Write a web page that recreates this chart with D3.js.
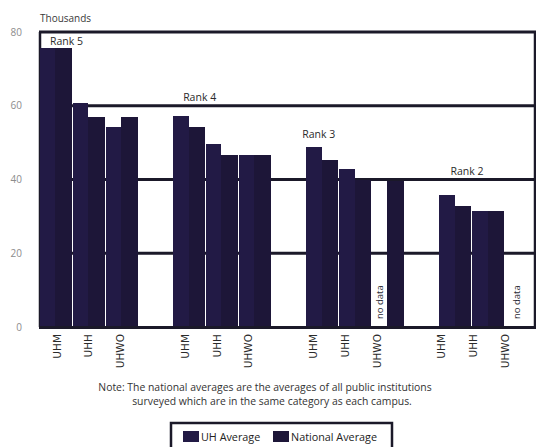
<!DOCTYPE html>
<html>
<head>
<meta charset="utf-8">
<script src="https://cdn.jsdelivr.net/npm/d3@7"></script>
<style>
  html, body { margin: 0; padding: 0; background: #fff; }
  svg { display: block; font-family: "Open Sans", "Lato", sans-serif; }
</style>
</head>
<body>
<svg id="chart" width="536" height="447"></svg>
<script>
// Salary comparison by campus and rank, in thousands of dollars
const ranks = ["Rank 5", "Rank 4", "Rank 3", "Rank 2"];
const campuses = ["UHM", "UHH", "UHWO"];
const seriesNames = ["UH Average", "National Average"];
// one row per rank, one value per campus (null = no data)
const uhAverage = [
  [75.7, 60.7, 54.3],
  [57.2, 49.6, 46.7],
  [48.9, 42.8, null],
  [35.8, 31.5, null]
];
const nationalAverage = [
  [75.7, 56.9, 56.9],
  [54.3, 46.7, 46.7],
  [45.3, 39.8, 39.5],
  [32.8, 31.5, null]
];
const yTicks = [0, 20, 40, 60, 80];
const noteLines = [
  "Note: The national averages are the averages of all public institutions",
  "surveyed which are in the same category as each campus."
];

const colors = { "UH Average": "#221a45", "National Average": "#1d1638" };
const ink = "#1b1929";

const svg = d3.select("#chart");

const y = d3.scaleLinear().domain([0, 80]).range([327, 32]);

const xGroup = d3.scaleBand().domain(ranks).range([39, 537]).paddingInner(0.26).paddingOuter(0);
const xCampus = d3.scaleBand().domain(campuses).range([0, xGroup.bandwidth()]);
const xSeries = d3.scaleBand().domain(seriesNames).range([0, xCampus.bandwidth()]);

// tick labels sit on their own, slightly narrower spacing
const xLabelGroup = d3.scaleBand().domain(ranks).range([41, 521]).paddingInner(0.256).paddingOuter(0);
const xLabelCampus = d3.scaleBand().domain(campuses).range([0, xLabelGroup.bandwidth()]);

const plotLeft = 40, plotRight = 535;

// horizontal reference lines
svg.append("g").selectAll("line").data(yTicks.filter(d => d > 0)).join("line")
  .attr("x1", plotLeft - 1).attr("x2", plotRight + 1)
  .attr("y1", d => y(d)).attr("y2", d => y(d))
  .attr("stroke", ink).attr("stroke-width", 3);

// frame sides
svg.append("line").attr("x1", plotLeft).attr("x2", plotLeft)
  .attr("y1", y(80)).attr("y2", y(0)).attr("stroke", ink).attr("stroke-width", 2.5);
svg.append("line").attr("x1", plotRight).attr("x2", plotRight)
  .attr("y1", y(80)).attr("y2", y(0)).attr("stroke", ink).attr("stroke-width", 2.5);

// bars: the two bars of a campus touch, campuses are split by a 1px gap
const barData = [];
ranks.forEach((r, i) => {
  campuses.forEach((c, j) => {
    barData.push({ rank: r, campus: c, series: "UH Average", value: uhAverage[i][j] });
    barData.push({ rank: r, campus: c, series: "National Average", value: nationalAverage[i][j] });
  });
});
const pairStart = d => Math.round(xGroup(d.rank) + xCampus(d.campus));
const pairEnd = d => Math.round(xGroup(d.rank) + xCampus(d.campus) + xCampus.bandwidth());
const barLeft = d => d.series === seriesNames[0]
  ? pairStart(d) + 1
  : Math.round(xGroup(d.rank) + xCampus(d.campus) + xSeries(d.series));
const barRight = d => d.series === seriesNames[0]
  ? Math.round(xGroup(d.rank) + xCampus(d.campus) + xSeries(seriesNames[1]))
  : pairEnd(d);

svg.append("g").attr("shape-rendering", "crispEdges")
  .selectAll("rect").data(barData.filter(d => d.value != null)).join("rect")
  .attr("x", barLeft)
  .attr("width", d => barRight(d) - barLeft(d))
  .attr("y", d => Math.round(y(d.value)))
  .attr("height", d => Math.round(y(0)) - Math.round(y(d.value)))
  .attr("fill", d => colors[d.series]);

// baseline
svg.append("line").attr("x1", plotLeft - 1).attr("x2", plotRight + 1)
  .attr("y1", y(0) + 0.5).attr("y2", y(0) + 0.5).attr("stroke", ink).attr("stroke-width", 3);

// "no data" markers
svg.append("g").selectAll("text").data(barData.filter(d => d.value == null && d.series === "UH Average")).join("text")
  .attr("transform", d => {
    const bothMissing = barData.find(b => b.rank === d.rank && b.campus === d.campus && b.series === "National Average").value == null;
    const cx = bothMissing
      ? xGroup(d.rank) + xCampus(d.campus) + xCampus.bandwidth() / 2 - 4
      : xGroup(d.rank) + xCampus(d.campus) + xSeries(d.series) + xSeries.bandwidth() / 2;
    return `translate(${cx},${y(0) - 8}) rotate(-90)`;
  })
  .attr("dy", "0.35em")
  .attr("font-size", 9.5)
  .attr("fill", "#2a2a33")
  .text("no data");

// y axis labels
const yAxis = svg.append("g").attr("transform", "translate(24,0)")
  .call(d3.axisLeft(y).tickValues(yTicks).tickSize(0).tickPadding(2));
yAxis.select(".domain").remove();
yAxis.selectAll("text").attr("font-size", 10).attr("fill", "#8c8c8c").attr("font-family", "Open Sans, sans-serif");

svg.append("text").attr("x", 40).attr("y", 18).attr("dy", "0.35em")
  .attr("font-size", 10).attr("fill", "#3a3a3a").text("Thousands");

// rank labels
const rankLabelPos = { "Rank 5": [11, 77.4], "Rank 4": [11, 62.3], "Rank 3": [-3, 52.2], "Rank 2": [12, 42.2] };
svg.append("g").selectAll("text").data(ranks).join("text")
  .attr("x", d => xGroup(d) + rankLabelPos[d][0])
  .attr("y", d => y(rankLabelPos[d][1]))
  .attr("dy", "0.35em")
  .attr("font-size", 10.5).attr("fill", "#2b2b2b")
  .text(d => d);

// campus tick labels
const tickData = [];
ranks.forEach(r => campuses.forEach(c => tickData.push({ rank: r, campus: c })));
svg.append("g").selectAll("text").data(tickData).join("text")
  .attr("transform", d => `translate(${xLabelGroup(d.rank) + xLabelCampus(d.campus) + xLabelCampus.bandwidth() / 2},334) rotate(-90)`)
  .attr("text-anchor", "end")
  .attr("dy", "0.35em")
  .attr("font-size", 10.5)
  .attr("font-family", "DejaVu Sans, sans-serif")
  .attr("fill", "#2a2a2a")
  .text(d => d.campus);

// note
svg.append("g").selectAll("text").data(noteLines).join("text")
  .attr("x", (d, i) => i === 0 ? 265 : 272)
  .attr("y", (d, i) => 387 + i * 14)
  .attr("dy", "0.35em")
  .attr("text-anchor", "middle")
  .attr("font-size", 10.4)
  .attr("fill", "#333")
  .text(d => d);

// legend
const legend = svg.append("g");
legend.append("rect").attr("x", 171).attr("y", 423).attr("width", 221).attr("height", 40)
  .attr("fill", "#fff").attr("stroke", ink).attr("stroke-width", 2.5);
const legendX = [183, 273];
seriesNames.forEach((s, i) => {
  legend.append("rect").attr("x", legendX[i]).attr("y", 431).attr("width", 16).attr("height", 11)
    .attr("fill", colors[s]);
  legend.append("text").attr("x", legendX[i] + 18).attr("y", 437).attr("dy", "0.35em")
    .attr("font-size", 10.8).attr("fill", "#222").text(s);
});
</script>
</body>
</html>
